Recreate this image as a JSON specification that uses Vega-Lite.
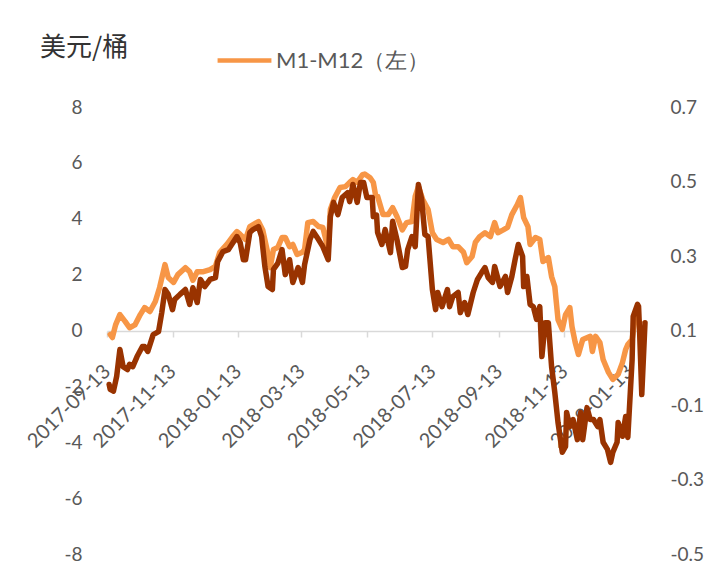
{
"$schema": "https://vega.github.io/schema/vega-lite/v6.json",
"autosize": "none",
"width": 538, "height": 447,
"padding": {"left": 107, "top": 107, "right": 70, "bottom": 10},
"background": "white",
"config": {"view": {"stroke": null}, "font": "Lato"},
"title": {"text": "美元/桶", "anchor": "start", "frame": "group", "dx": -67, "dy": 34, "font": "Noto Sans CJK SC", "fontSize": 26, "fontWeight": "normal", "color": "#333333"},
"layer": [
{
"data": {"values": [
{"date":"2017-09-16","value":-0.14},{"date":"2017-09-18","value":-0.25},{"date":"2017-09-21","value":0.2},{"date":"2017-09-25","value":0.57},{"date":"2017-09-30","value":0.32},{"date":"2017-10-04","value":0.1},{"date":"2017-10-09","value":0.2},{"date":"2017-10-14","value":0.57},{"date":"2017-10-18","value":0.82},{"date":"2017-10-23","value":0.68},{"date":"2017-10-28","value":1.04},{"date":"2017-11-01","value":1.54},{"date":"2017-11-06","value":2.36},{"date":"2017-11-09","value":1.9},{"date":"2017-11-14","value":1.72},{"date":"2017-11-18","value":2.0},{"date":"2017-11-25","value":2.25},{"date":"2017-11-29","value":2.1},{"date":"2017-12-02","value":1.8},{"date":"2017-12-06","value":2.1},{"date":"2017-12-11","value":2.1},{"date":"2017-12-18","value":2.18},{"date":"2017-12-23","value":2.3},{"date":"2017-12-27","value":2.8},{"date":"2018-01-03","value":3.1},{"date":"2018-01-08","value":3.36},{"date":"2018-01-12","value":3.54},{"date":"2018-01-15","value":3.44},{"date":"2018-01-20","value":3.26},{"date":"2018-01-24","value":3.72},{"date":"2018-02-01","value":3.9},{"date":"2018-02-05","value":3.6},{"date":"2018-02-09","value":2.9},{"date":"2018-02-12","value":2.25},{"date":"2018-02-15","value":2.9},{"date":"2018-02-19","value":2.97},{"date":"2018-02-23","value":3.33},{"date":"2018-02-26","value":3.33},{"date":"2018-03-02","value":3.0},{"date":"2018-03-05","value":3.08},{"date":"2018-03-09","value":2.72},{"date":"2018-03-14","value":2.8},{"date":"2018-03-16","value":2.9},{"date":"2018-03-19","value":3.86},{"date":"2018-03-24","value":3.9},{"date":"2018-03-29","value":3.72},{"date":"2018-04-02","value":3.69},{"date":"2018-04-07","value":2.9},{"date":"2018-04-09","value":4.33},{"date":"2018-04-13","value":4.76},{"date":"2018-04-18","value":5.12},{"date":"2018-04-23","value":5.15},{"date":"2018-04-27","value":5.3},{"date":"2018-04-30","value":5.4},{"date":"2018-05-04","value":5.3},{"date":"2018-05-09","value":5.58},{"date":"2018-05-11","value":5.6},{"date":"2018-05-16","value":5.47},{"date":"2018-05-19","value":5.3},{"date":"2018-05-21","value":4.87},{"date":"2018-05-23","value":4.8},{"date":"2018-05-28","value":4.15},{"date":"2018-06-02","value":4.15},{"date":"2018-06-06","value":4.4},{"date":"2018-06-10","value":4.08},{"date":"2018-06-15","value":3.6},{"date":"2018-06-19","value":3.86},{"date":"2018-06-24","value":3.9},{"date":"2018-06-27","value":4.8},{"date":"2018-06-30","value":5.15},{"date":"2018-07-04","value":4.69},{"date":"2018-07-09","value":4.33},{"date":"2018-07-13","value":3.5},{"date":"2018-07-17","value":3.26},{"date":"2018-07-23","value":3.15},{"date":"2018-07-28","value":3.26},{"date":"2018-08-01","value":3.0},{"date":"2018-08-06","value":3.0},{"date":"2018-08-11","value":2.8},{"date":"2018-08-14","value":2.43},{"date":"2018-08-19","value":2.65},{"date":"2018-08-22","value":3.15},{"date":"2018-08-26","value":3.36},{"date":"2018-08-31","value":3.5},{"date":"2018-09-05","value":3.36},{"date":"2018-09-09","value":3.86},{"date":"2018-09-12","value":3.5},{"date":"2018-09-17","value":3.6},{"date":"2018-09-21","value":3.69},{"date":"2018-09-25","value":4.15},{"date":"2018-09-30","value":4.5},{"date":"2018-10-03","value":4.76},{"date":"2018-10-06","value":4.04},{"date":"2018-10-10","value":3.72},{"date":"2018-10-12","value":3.08},{"date":"2018-10-17","value":3.33},{"date":"2018-10-21","value":3.26},{"date":"2018-10-24","value":2.47},{"date":"2018-10-29","value":2.61},{"date":"2018-11-01","value":1.93},{"date":"2018-11-04","value":1.57},{"date":"2018-11-07","value":0.39},{"date":"2018-11-11","value":0.04},{"date":"2018-11-14","value":0.57},{"date":"2018-11-18","value":0.82},{"date":"2018-11-20","value":0.14},{"date":"2018-11-23","value":-0.43},{"date":"2018-11-26","value":-0.86},{"date":"2018-11-30","value":-0.32},{"date":"2018-12-07","value":-0.21},{"date":"2018-12-09","value":-0.75},{"date":"2018-12-12","value":-0.21},{"date":"2018-12-16","value":-0.43},{"date":"2018-12-19","value":-1.04},{"date":"2018-12-24","value":-1.5},{"date":"2018-12-28","value":-1.75},{"date":"2019-01-02","value":-1.57},{"date":"2019-01-06","value":-1.15},{"date":"2019-01-09","value":-0.68},{"date":"2019-01-11","value":-0.5},{"date":"2019-01-15","value":-0.32},{"date":"2019-01-18","value":0.5},{"date":"2019-01-20","value":0.39},{"date":"2019-01-22","value":0.3}
]},
"mark": {"type": "line", "strokeWidth": 5.5, "strokeJoin": "round", "strokeCap": "round"},
"encoding": {
"x": {"field": "date", "type": "temporal",
"scale": {"type": "utc", "domain": [{"year": 2017, "month": 9, "date": 13, "utc": true}, {"year": 2019, "month": 1, "date": 27, "utc": true}]},
"axis": {"title": null, "grid": false, "offset": -223, "format": "%Y-%m-%d", "labelAngle": -45, "labelAlign": "right", "labelBaseline": "middle", "labelPadding": 31, "labelFontSize": 20, "labelColor": "#595959", "labelOverlap": false, "labelFlush": false, "domainColor": "#d9d9d9", "domainWidth": 1.5, "tickColor": "#d9d9d9", "tickWidth": 1.5, "tickSize": 6,
"values": [{"year": 2017, "month": 9, "date": 13, "utc": true}, {"year": 2017, "month": 11, "date": 13, "utc": true}, {"year": 2018, "month": 1, "date": 13, "utc": true}, {"year": 2018, "month": 3, "date": 13, "utc": true}, {"year": 2018, "month": 5, "date": 13, "utc": true}, {"year": 2018, "month": 7, "date": 13, "utc": true}, {"year": 2018, "month": 9, "date": 13, "utc": true}, {"year": 2018, "month": 11, "date": 13, "utc": true}, {"year": 2019, "month": 1, "date": 13, "utc": true}]}},
"y": {"field": "value", "type": "quantitative", "scale": {"domain": [-8, 8], "nice": false, "zero": false},
"axis": {"title": null, "orient": "left", "grid": false, "domain": false, "ticks": false, "values": [-8, -6, -4, -2, 0, 2, 4, 6, 8], "labelExpr": "replace(datum.label, '\u2212', '-')", "labelFontSize": 19, "labelColor": "#595959", "labelPadding": 25}},
"color": {"datum": "M1-M12（左）", "type": "nominal", "scale": {"domain": ["M1-M12（左）"], "range": ["#F79646"]},
"legend": {"orient": "none", "legendX": 108, "legendY": -76, "title": null, "symbolType": "stroke", "symbolStrokeWidth": 4.5, "symbolSize": 2900, "labelOffset": 2, "labelFontSize": 22, "labelColor": "#595959", "labelFont": "Lato"}}
}
},
{
"data": {"values": [
{"date":"2017-09-15","value":-0.045},{"date":"2017-09-16","value":-0.058},{"date":"2017-09-19","value":-0.063},{"date":"2017-09-22","value":-0.023},{"date":"2017-09-25","value":0.049},{"date":"2017-09-28","value":0.003},{"date":"2017-10-02","value":-0.005},{"date":"2017-10-04","value":0.009},{"date":"2017-10-07","value":0.003},{"date":"2017-10-11","value":0.03},{"date":"2017-10-16","value":0.057},{"date":"2017-10-18","value":0.057},{"date":"2017-10-21","value":0.044},{"date":"2017-10-26","value":0.089},{"date":"2017-10-31","value":0.097},{"date":"2017-11-03","value":0.148},{"date":"2017-11-06","value":0.21},{"date":"2017-11-09","value":0.197},{"date":"2017-11-13","value":0.156},{"date":"2017-11-15","value":0.183},{"date":"2017-11-20","value":0.197},{"date":"2017-11-25","value":0.21},{"date":"2017-11-29","value":0.17},{"date":"2017-12-02","value":0.215},{"date":"2017-12-06","value":0.175},{"date":"2017-12-09","value":0.237},{"date":"2017-12-13","value":0.218},{"date":"2017-12-18","value":0.237},{"date":"2017-12-23","value":0.242},{"date":"2017-12-25","value":0.285},{"date":"2017-12-30","value":0.312},{"date":"2018-01-04","value":0.317},{"date":"2018-01-07","value":0.33},{"date":"2018-01-12","value":0.352},{"date":"2018-01-15","value":0.336},{"date":"2018-01-18","value":0.29},{"date":"2018-01-20","value":0.29},{"date":"2018-01-24","value":0.363},{"date":"2018-01-27","value":0.371},{"date":"2018-02-01","value":0.379},{"date":"2018-02-04","value":0.352},{"date":"2018-02-07","value":0.272},{"date":"2018-02-10","value":0.218},{"date":"2018-02-14","value":0.21},{"date":"2018-02-15","value":0.264},{"date":"2018-02-19","value":0.28},{"date":"2018-02-23","value":0.317},{"date":"2018-02-26","value":0.25},{"date":"2018-03-02","value":0.29},{"date":"2018-03-05","value":0.229},{"date":"2018-03-10","value":0.269},{"date":"2018-03-14","value":0.229},{"date":"2018-03-16","value":0.277},{"date":"2018-03-21","value":0.344},{"date":"2018-03-24","value":0.366},{"date":"2018-03-29","value":0.344},{"date":"2018-04-02","value":0.325},{"date":"2018-04-07","value":0.29},{"date":"2018-04-09","value":0.406},{"date":"2018-04-12","value":0.444},{"date":"2018-04-16","value":0.411},{"date":"2018-04-20","value":0.457},{"date":"2018-04-25","value":0.47},{"date":"2018-04-27","value":0.446},{"date":"2018-04-30","value":0.492},{"date":"2018-05-04","value":0.444},{"date":"2018-05-07","value":0.497},{"date":"2018-05-10","value":0.497},{"date":"2018-05-13","value":0.457},{"date":"2018-05-18","value":0.457},{"date":"2018-05-19","value":0.406},{"date":"2018-05-22","value":0.41},{"date":"2018-05-23","value":0.363},{"date":"2018-05-27","value":0.331},{"date":"2018-05-30","value":0.371},{"date":"2018-06-04","value":0.309},{"date":"2018-06-06","value":0.393},{"date":"2018-06-10","value":0.344},{"date":"2018-06-15","value":0.269},{"date":"2018-06-18","value":0.272},{"date":"2018-06-20","value":0.317},{"date":"2018-06-24","value":0.352},{"date":"2018-06-27","value":0.325},{"date":"2018-06-30","value":0.492},{"date":"2018-07-03","value":0.452},{"date":"2018-07-06","value":0.358},{"date":"2018-07-09","value":0.352},{"date":"2018-07-13","value":0.21},{"date":"2018-07-16","value":0.156},{"date":"2018-07-18","value":0.202},{"date":"2018-07-22","value":0.164},{"date":"2018-07-27","value":0.21},{"date":"2018-07-29","value":0.164},{"date":"2018-08-01","value":0.191},{"date":"2018-08-06","value":0.202},{"date":"2018-08-08","value":0.148},{"date":"2018-08-12","value":0.175},{"date":"2018-08-15","value":0.143},{"date":"2018-08-20","value":0.202},{"date":"2018-08-24","value":0.237},{"date":"2018-08-28","value":0.256},{"date":"2018-08-31","value":0.269},{"date":"2018-09-03","value":0.242},{"date":"2018-09-07","value":0.229},{"date":"2018-09-09","value":0.272},{"date":"2018-09-14","value":0.218},{"date":"2018-09-19","value":0.245},{"date":"2018-09-21","value":0.202},{"date":"2018-09-25","value":0.245},{"date":"2018-09-28","value":0.29},{"date":"2018-10-01","value":0.331},{"date":"2018-10-05","value":0.299},{"date":"2018-10-06","value":0.218},{"date":"2018-10-09","value":0.245},{"date":"2018-10-12","value":0.17},{"date":"2018-10-15","value":0.164},{"date":"2018-10-18","value":0.13},{"date":"2018-10-21","value":0.164},{"date":"2018-10-23","value":0.03},{"date":"2018-10-26","value":0.121},{"date":"2018-10-29","value":0.121},{"date":"2018-11-01","value":0.003},{"date":"2018-11-04","value":-0.066},{"date":"2018-11-07","value":-0.147},{"date":"2018-11-11","value":-0.227},{"date":"2018-11-14","value":-0.211},{"date":"2018-11-15","value":-0.12},{"date":"2018-11-18","value":-0.158},{"date":"2018-11-21","value":-0.139},{"date":"2018-11-25","value":-0.193},{"date":"2018-11-28","value":-0.12},{"date":"2018-11-30","value":-0.193},{"date":"2018-12-04","value":-0.107},{"date":"2018-12-07","value":-0.139},{"date":"2018-12-10","value":-0.139},{"date":"2018-12-14","value":-0.158},{"date":"2018-12-16","value":-0.139},{"date":"2018-12-19","value":-0.2},{"date":"2018-12-23","value":-0.219},{"date":"2018-12-26","value":-0.254},{"date":"2018-12-28","value":-0.227},{"date":"2019-01-01","value":-0.2},{"date":"2019-01-02","value":-0.147},{"date":"2019-01-06","value":-0.184},{"date":"2019-01-09","value":-0.131},{"date":"2019-01-11","value":-0.187},{"date":"2019-01-15","value":0.022},{"date":"2019-01-16","value":0.138},{"date":"2019-01-20","value":0.17},{"date":"2019-01-21","value":0.165},{"date":"2019-01-22","value":0.095},{"date":"2019-01-24","value":-0.072},{"date":"2019-01-27","value":0.121}
]},
"mark": {"type": "line", "color": "#993300", "strokeWidth": 5.5, "strokeJoin": "round", "strokeCap": "round"},
"encoding": {
"x": {"field": "date", "type": "temporal", "scale": {"type": "utc"}},
"y": {"field": "value", "type": "quantitative", "scale": {"domain": [-0.5, 0.7], "nice": false, "zero": false},
"axis": {"title": null, "orient": "right", "grid": false, "domain": false, "ticks": false, "values": [-0.5, -0.3, -0.1, 0.1, 0.3, 0.5, 0.7], "format": ".1f", "labelExpr": "replace(datum.label, '\u2212', '-')", "labelFontSize": 19, "labelColor": "#595959", "labelPadding": 25}}
}
}
],
"resolve": {"scale": {"y": "independent"}}
}
